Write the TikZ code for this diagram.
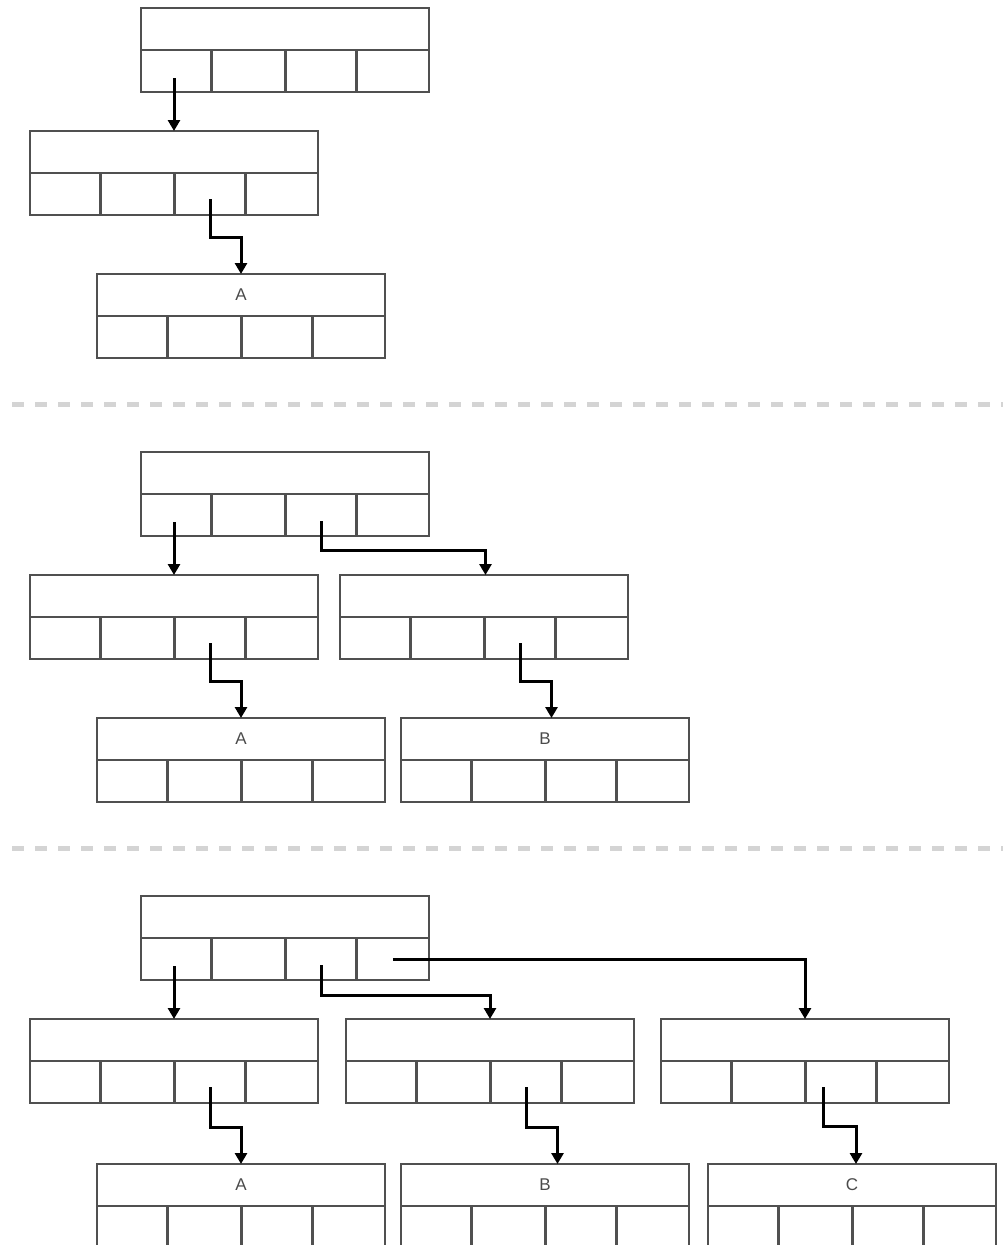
\documentclass[tikz,border=0pt]{standalone}
\usepackage{fontspec}
\setmainfont{Liberation Sans}
\usetikzlibrary{arrows.meta}
\definecolor{boxline}{RGB}{80,80,80}
\definecolor{sepgray}{RGB}{212,212,212}
\definecolor{labelgray}{RGB}{75,75,75}
\tikzset{
  boxpart/.style={draw=boxline, line width=2.2pt, outer sep=0pt, inner sep=0pt, minimum height=42pt, anchor=north west},
  toprow/.style={boxpart, minimum width=288pt, font=\fontsize{17}{17}\selectfont, text=labelgray},
  arr/.style={draw=black, line width=3pt, -{Triangle[width=12pt,length=11pt]}},
  sepline/.style={draw=sepgray, line width=5pt, dash pattern=on 12pt off 11pt}
}
\newcommand{\btreebox}[4]{%
  \node[toprow] (#1) at (#2,#3) {#4};
  \node[boxpart, minimum width=70.5pt] (#1-1) at (#1.south west) {};
  \node[boxpart, minimum width=74pt] (#1-2) at (#1-1.north east) {};
  \node[boxpart, minimum width=71pt] (#1-3) at (#1-2.north east) {};
  \node[boxpart, minimum width=72.5pt] (#1-4) at (#1-3.north east) {};
}
\begin{document}
\begin{tikzpicture}[x=1pt,y=-1pt]
\clip (0,0) rectangle (1003,1245);
\fill[white] (0,0) rectangle (1003,1245);

% separators
\coordinate (sepL1) at (12,404);
\coordinate (sepR1) at (1010,404);
\coordinate (sepL2) at (12,848);
\coordinate (sepR2) at (1010,848);
\draw[sepline] (sepL1) -- (sepR1);
\draw[sepline] (sepL2) -- (sepR2);

% section 1
\btreebox{R1}{141}{8}{}
\btreebox{C11}{30}{131}{}
\btreebox{A1}{97}{274}{A}

% section 2
\btreebox{R2}{141}{452}{}
\btreebox{C21}{30}{575}{}
\btreebox{C22}{340}{575}{}
\btreebox{A2}{97}{718}{A}
\btreebox{B2}{401}{718}{B}

% section 3
\btreebox{R3}{141}{896}{}
\btreebox{C31}{30}{1019}{}
\btreebox{C32}{346}{1019}{}
\btreebox{C33}{661}{1019}{}
\btreebox{A3}{97}{1164}{A}
\btreebox{B3}{401}{1164}{B}
\btreebox{C3}{708}{1164}{C}

% arrows section 1
\coordinate (s1a) at ([yshift=-7pt]R1-1.center);
\draw[arr] (s1a -| C11.north) -- (C11.north);
\draw[arr] ([yshift=-5pt]C11-3.center) |- ([yshift=37pt]A1.north) -- (A1.north);

% arrows section 2
\coordinate (s2a) at ([yshift=-7pt]R2-1.center);
\draw[arr] (s2a -| C21.north) -- (C21.north);
\draw[arr] ([yshift=-6pt]R2-3.center) |- ([xshift=1.5pt,yshift=25pt]C22.north) -- ([xshift=1.5pt]C22.north);
\draw[arr] ([yshift=-5pt]C21-3.center) |- ([yshift=37pt]A2.north) -- (A2.north);
\draw[arr] ([yshift=-5pt]C22-3.center) |- ([xshift=6.5pt,yshift=37pt]B2.north) -- ([xshift=6.5pt]B2.north);

% arrows section 3
\coordinate (s3a) at ([yshift=-7pt]R3-1.center);
\draw[arr] (s3a -| C31.north) -- (C31.north);
\draw[arr] ([yshift=-6pt]R3-3.center) |- ([yshift=24pt]C32.north) -- (C32.north);
\draw[arr] (R3-4.center) -| (C33.north);
\draw[arr] ([yshift=-5pt]C31-3.center) |- ([yshift=37pt]A3.north) -- (A3.north);
\draw[arr] ([yshift=-5pt]C32-3.center) |- ([xshift=12.5pt,yshift=37pt]B3.north) -- ([xshift=12.5pt]B3.north);
\draw[arr] ([xshift=-17.5pt,yshift=-5pt]C33-3.center) |- ([xshift=4pt,yshift=38pt]C3.north) -- ([xshift=4pt]C3.north);
\end{tikzpicture}
\end{document}
